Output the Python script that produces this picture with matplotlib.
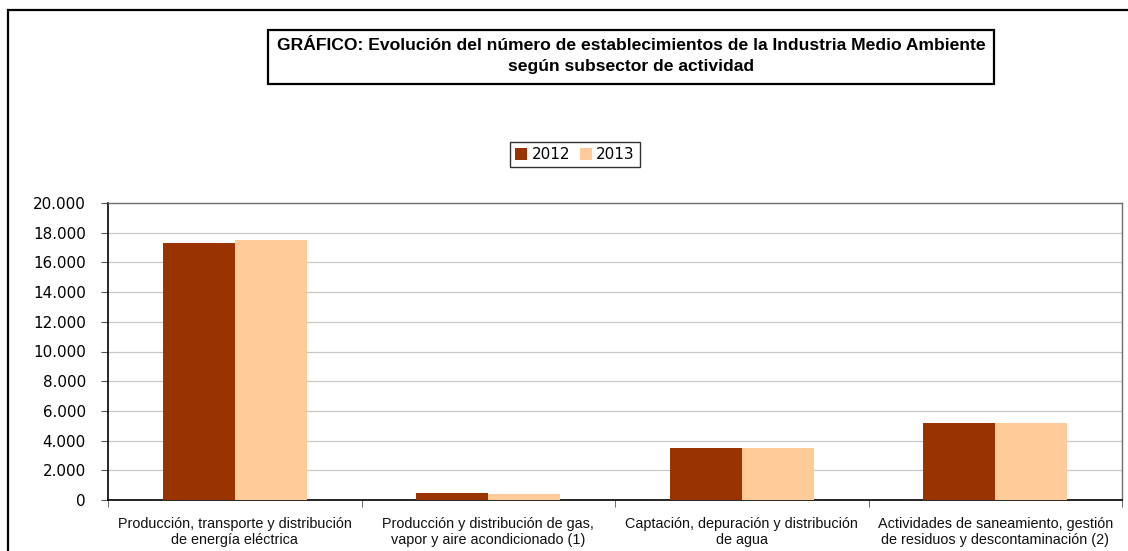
import numpy as np
import matplotlib
matplotlib.use("Agg")
import matplotlib.pyplot as plt
from matplotlib.patches import Rectangle
from matplotlib.ticker import FuncFormatter, FixedLocator

categories = ['Producción, transporte y distribución\nde energía eléctrica',
              'Producción y distribución de gas,\nvapor y aire acondicionado (1)',
              'Captación, depuración y distribución\nde agua',
              'Actividades de saneamiento, gestión\nde residuos y descontaminación (2)']
years = ['2012', '2013']
values_2012 = [17330, 460, 3510, 5200]
values_2013 = [17530, 390, 3500, 5190]
colors = ['#993300', '#FFCC99']

fig = plt.figure(figsize=(11.28, 5.51), dpi=100)

# outer frame of the sheet
fig.patches.append(Rectangle((8 / 1128, -0.05), 1.2, 1 - 10 / 551 + 0.05,
                             transform=fig.transFigure, fill=False,
                             edgecolor='black', linewidth=1.6))

# title box
fig.patches.append(Rectangle((268 / 1128, 1 - 84 / 551), 726 / 1128, 54 / 551,
                             transform=fig.transFigure, fill=False,
                             edgecolor='black', linewidth=1.6))
fig.text(631 / 1128, 1 - 45 / 551,
         'GRÁFICO: Evolución del número de establecimientos de la Industria Medio Ambiente',
         ha='center', va='center', fontsize=12.6, fontweight='bold',
         family='Liberation Sans')
fig.text(631 / 1128, 1 - 67 / 551, 'según subsector de actividad',
         ha='center', va='center', fontsize=12.6, fontweight='bold',
         family='Liberation Sans')

ax = fig.add_axes([108 / 1128, 1 - 500 / 551, 1014 / 1128, 297 / 551])

x = np.arange(len(categories))
width = 0.285
b1 = ax.bar(x - width / 2, values_2012, width, color=colors[0], label=years[0], zorder=3)
b2 = ax.bar(x + width / 2, values_2013, width, color=colors[1], label=years[1], zorder=3)

ax.set_xlim(-0.5, len(categories) - 0.5)
ax.set_ylim(0, 20000)
ax.set_yticks(np.arange(0, 20001, 2000))
ax.yaxis.set_major_formatter(FuncFormatter(lambda v, p: '{:,.0f}'.format(v).replace(',', '.')))
ax.yaxis.grid(True, color='#c8c8c8', linewidth=0.9, zorder=0)
ax.set_axisbelow(True)

ax.set_xticks(x)
ax.set_xticklabels(categories, fontsize=10.4, family='Liberation Sans',
                   linespacing=1.25, color='#111111')
ax.tick_params(axis='x', which='major', length=0, pad=12)
ax.xaxis.set_minor_locator(FixedLocator(np.arange(-0.5, len(categories), 1.0)))
ax.tick_params(axis='x', which='minor', length=5, color='#555555')
ax.tick_params(axis='y', length=5, color='#555555', labelsize=10.9, pad=11)

for s in ['left', 'bottom']:
    ax.spines[s].set_color('black')
    ax.spines[s].set_linewidth(1.2)
for s in ['top', 'right']:
    ax.spines[s].set_color('#707070')
    ax.spines[s].set_linewidth(1.0)

leg = fig.legend(handles=[b1, b2], labels=years, loc='center',
                 bbox_to_anchor=(575 / 1128, 1 - 154.5 / 551), ncol=2,
                 frameon=True, fancybox=False, fontsize=11,
                 handlelength=0.8, handleheight=0.8, handletextpad=0.3,
                 columnspacing=0.6, borderpad=0.35, borderaxespad=0)
leg.get_frame().set_edgecolor('black')
leg.get_frame().set_linewidth(1.0)

fig.savefig('out.png', dpi=100)
